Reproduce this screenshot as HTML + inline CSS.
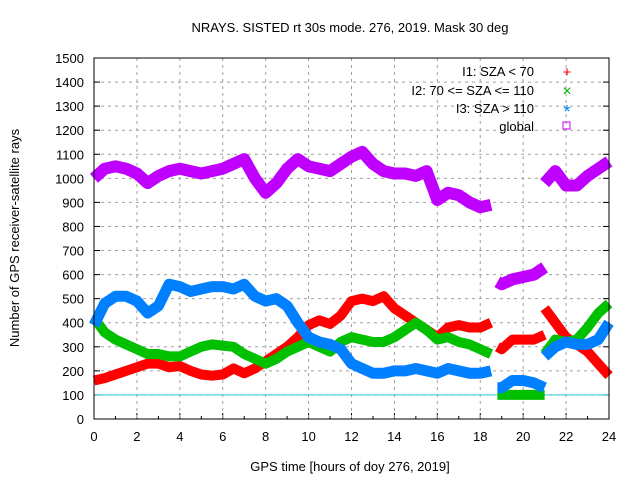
<!DOCTYPE html>
<html><head><meta charset="utf-8"><style>
body{margin:0;background:#fff}
svg text{font-family:"Liberation Sans",sans-serif;font-size:13px;fill:#000}
</style></head><body>
<svg id="c" width="640" height="480" xmlns="http://www.w3.org/2000/svg">
<text x="350" y="32" text-anchor="middle" font-size="14">NRAYS. SISTED rt 30s mode. 276, 2019. Mask 30 deg</text>
<text x="350" y="471" text-anchor="middle">GPS time [hours of doy 276, 2019]</text>
<text transform="translate(19,238) rotate(-90)" text-anchor="middle">Number of GPS receiver-satellite rays</text>
<g id="grid"></g><g id="series"></g>
<rect x="94" y="58" width="515" height="361" fill="none" stroke="#000" stroke-width="1"/>
<g id="legend">
<text x="534" y="76" text-anchor="end">I1: SZA &lt; 70</text>
<text x="567" y="77" text-anchor="middle" style="fill:#f00;font-size:15px">+</text>
<text x="534" y="95" text-anchor="end">I2: 70 &lt;= SZA &lt;= 110</text>
<text x="567" y="96" text-anchor="middle" style="fill:#0b0;font-size:16px">×</text>
<text x="534" y="113" text-anchor="end">I3: SZA &gt; 110</text>
<text x="567" y="118" text-anchor="middle" style="fill:#08f;font-size:18px">*</text>
<text x="534" y="131" text-anchor="end">global</text>
<rect x="563" y="122" width="7" height="7" fill="none" stroke="#c0f"/>
</g>
</svg>
<script>
const hours=[0,0.5,1,1.5,2,2.5,3,3.5,4,4.5,5,5.5,6,6.5,7,7.5,8,8.5,9,9.5,10,10.5,11,11.5,12,12.5,13,13.5,14,14.5,15,15.5,16,16.5,17,17.5,18,18.5];
const globalA=[1000,1040,1050,1040,1020,980,1010,1030,1040,1030,1020,1030,1040,1060,1080,1000,940,980,1040,1080,1050,1040,1030,1060,1090,1110,1060,1030,1020,1020,1010,1030,910,940,930,900,880,890];
const i1A=[160,170,185,200,215,230,230,215,220,200,185,180,185,210,190,210,240,270,300,340,390,410,395,430,490,500,490,510,460,430,400,370,340,380,390,380,380,400];
const i2A=[420,360,330,310,290,270,270,260,260,280,300,310,305,300,270,250,230,250,280,300,320,300,280,320,340,330,320,320,340,370,400,370,330,340,320,310,290,270];
const i3A=[390,480,510,510,490,440,470,560,550,530,540,550,550,540,560,510,490,500,470,400,340,320,310,290,230,210,190,190,200,200,210,200,190,210,200,190,190,200];
const hoursB=[18.8,19,19.5,20,20.5,21];
const globalB=[570,560,580,590,600,630];
const i1B=[300,290,330,330,330,350];
const i2B=[100,100,100,100,100,100];
const i3B=[130,130,160,160,150,130];
const hoursC=[21,21.5,22,22.5,23,23.5,24];
const globalC=[980,1030,970,970,1010,1040,1070];
const i1C=[460,400,340,310,280,230,180];
const i2C=[270,330,320,330,380,440,480];
const i3C=[260,300,320,310,310,330,400];
const xTicks=[0,2,4,6,8,10,12,14,16,18,20,22,24];
const yTicks=[0,100,200,300,400,500,600,700,800,900,1000,1100,1200,1300,1400,1500];
const NS='http://www.w3.org/2000/svg';
const X=h=>94+h*515/24, Y=v=>419-v*361/1500;
const grid=document.getElementById('grid'), ser=document.getElementById('series');
function mk(tag,at,parent){const e=document.createElementNS(NS,tag);for(const k in at)e.setAttribute(k,at[k]);parent.appendChild(e);return e;}
yTicks.forEach(v=>{
 if(v>0&&v<1500){const l=mk('line',{x1:94,x2:609,y1:Y(v),y2:Y(v),stroke:'#a0a0a0','stroke-dasharray':'3,4'},grid);
 
 }
 const t=mk('line',{x1:94,x2:100,y1:Y(v),y2:Y(v),stroke:'#000'},grid);
 
 
 const t2=mk('line',{x1:603,x2:609,y1:Y(v),y2:Y(v),stroke:'#000'},grid);
 
 
 const tx=mk('text',{x:84,y:Y(v)+5,'text-anchor':'end'},grid);tx.textContent=v;
 
 
});
for(let h=0;h<=24;h++){const big=h%2==0;
 const t=mk('line',{x1:X(h),x2:X(h),y1:419,y2:big?413:416,stroke:'#000'},grid);
 
 }
xTicks.forEach(h=>{
 if(h>0&&h<24){const l=mk('line',{x1:X(h),x2:X(h),y1:58,y2:419,stroke:'#a0a0a0','stroke-dasharray':'3,4'},grid);
 
 }
 const tx=mk('text',{x:X(h),y:441,'text-anchor':'middle'},grid);tx.textContent=h;
 
 
});
const ref=mk('line',{x1:94,x2:609,y1:Y(100),y2:Y(100),stroke:'#3cc','stroke-width':1},grid);


function band(hs,vs,col,w,name){
 const p=mk('polyline',{points:hs.map((h,i)=>X(h)+','+Y(vs[i])).join(' '),fill:'none',stroke:col,'stroke-width':w,'stroke-linejoin':'round','stroke-linecap':'butt'},ser);
 
 
}
[['#c000ff',12,'global',[globalA,globalB,globalC]],['#ff0000',10,'i1',[i1A,i1B,i1C]],['#00c000',10,'i2',[i2A,i2B,i2C]],['#0080ff',11,'i3',[i3A,i3B,i3C]]].forEach(s=>{
 band(hours,s[3][0],s[0],s[1],s[2]+'-series-a');
 band(hoursB,s[3][1],s[0],s[1],s[2]+'-series-b');
 band(hoursC,s[3][2],s[0],s[1],s[2]+'-series-c');
});
</script>
</body></html>
